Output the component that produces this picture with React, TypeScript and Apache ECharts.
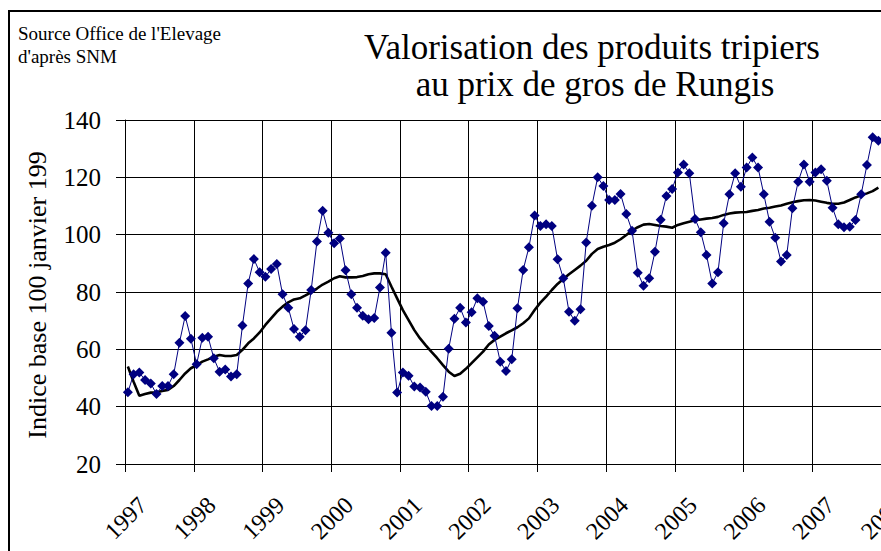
import React, { useEffect, useRef } from "react";
import * as echarts from "echarts";

const years = [1997, 1998, 1999, 2000, 2001, 2002, 2003, 2004, 2005, 2006, 2007, 2008];
const months = ["01", "02", "03", "04", "05", "06", "07", "08", "09", "10", "11", "12"];

// Monthly index (blue diamonds), Jan 1997 - Dec 2007
const valorisation = [
  45, 51.3, 51.9, 49.3, 48.1, 44.4, 47.2, 47.2, 51.3, 62.3, 71.6, 63.7,
  54.8, 64, 64.4, 56.9, 52.2, 53, 50.5, 51.3, 68.3, 83, 91.5, 86.9,
  85.3, 88, 89.8, 79.2, 74.5, 67.1, 64.4, 66.7, 80.7, 97.6, 108.3, 100.7,
  97, 98.7, 87.6, 79.2, 74.5, 71.7, 70.5, 70.9, 81.6, 93.7, 65.8, 44.9,
  51.9, 50.8, 47, 46.7, 45.2, 40.2, 40.2, 43.5, 60.2, 70.7, 74.5, 69.4,
  72.9, 77.8, 76.6, 68.1, 64.7, 55.7, 52.4, 56.5, 74.3, 87.7, 95.6, 106.7,
  103, 103.6, 103, 91.4, 84.8, 73.1, 70, 74, 97.3, 110.1, 120, 117,
  112.1, 112.1, 114.2, 107.2, 101.4, 86.7, 82.2, 84.8, 94, 105.2, 113.5, 115.9,
  121.7, 124.5, 121.4, 105.5, 100.8, 92.9, 83, 86.9, 104, 114.1, 121.4, 116.7,
  123.4, 126.9, 123.4, 114.1, 104.5, 98.9, 90.6, 92.9, 109.2, 118.5, 124.5, 118.5,
  121.7, 122.8, 118.8, 109.4, 103.6, 102.6, 102.8, 105.1, 114.1, 124.3, 134, 132.8,
];

// Smoothed trend (black line)
const tendance = [
  54, 48.7, 43.8, 44.4, 44.9, 45, 45.5, 45.8, 47.2, 49.3, 51.6, 53.4,
  54.5, 55.7, 56.5, 57.4, 58, 57.7, 57.7, 58, 59.8, 62.1, 63.8, 65.9,
  68.5, 70.8, 73.1, 74.9, 76.4, 77.4, 77.8, 78.8, 79.9, 81.2, 82.6, 83.6,
  84.8, 85.5, 85.1, 85.1, 85.2, 85.6, 86.2, 86.5, 86.5, 86.2, 81.9, 77.8,
  73.7, 70.2, 66.7, 63.8, 61.4, 59.1, 56.9, 54.5, 52.2, 50.7, 51.5, 53.2,
  55.2, 57.2, 59.2, 61.7, 63.3, 64.4, 65.6, 66.6, 67.7, 69.1, 70.8, 73.7,
  76.3, 78.4, 80.7, 82.8, 84.5, 86.2, 87.7, 89.2, 90.9, 93.3, 95, 95.8,
  96.4, 97.2, 98.4, 99.9, 101.4, 102.6, 103.5, 103.7, 103.4, 103, 102.8, 102.4,
  103.4, 104, 104.5, 105, 105.3, 105.6, 105.8, 106.2, 106.9, 107.4, 107.7, 107.8,
  107.9, 108.3, 108.6, 109.1, 109.4, 109.8, 110.2, 110.8, 111.3, 111.7, 112, 112.1,
  111.9, 111.5, 111.1, 110.8, 110.8, 111.2, 112.1, 113, 113.7, 114.4, 115.2, 116.4,
];

const titleLines = ["Valorisation des produits tripiers", "au prix de gros de Rungis"];
const sourceLines = ["Source Office de l'Elevage", "d'après SNM"];
const yTitle = "Indice base 100 janvier 199";

const categories: string[] = [];
years.forEach((y) => months.forEach((m) => categories.push(`${y}-${m}`)));

const FONT = "'Liberation Serif', 'Times New Roman', serif";

export default function App() {
  const ref = useRef<HTMLDivElement>(null);
  useEffect(() => {
    if (!ref.current) return;
    const chart = echarts.init(ref.current, undefined, { renderer: "svg" });
    chart.setOption({
      animation: false,
      backgroundColor: "#fff",
      grid: { left: 115, top: 108, width: 825, height: 344 },
      xAxis: {
        type: "category",
        data: categories,
        boundaryGap: true,
        axisLine: { show: true, lineStyle: { color: "#000", width: 1 } },
        axisTick: { show: true, interval: 11, length: 8, lineStyle: { color: "#000" } },
        axisLabel: {
          interval: 11,
          rotate: 45,
          align: "center",
          verticalAlign: "middle",
          margin: 52,
          padding: [0, 6, 6, 0],
          fontFamily: FONT,
          fontSize: 24,
          color: "#000",
          formatter: (v: string) => v.slice(0, 4),
        },
        splitLine: { show: true, interval: 11, lineStyle: { color: "#000", width: 1 } },
      },
      yAxis: {
        type: "value",
        min: 20,
        max: 140,
        interval: 20,
        axisLine: { show: true, lineStyle: { color: "#000", width: 1 } },
        axisTick: { show: true, length: 9, lineStyle: { color: "#000" } },
        axisLabel: { margin: 24, fontFamily: FONT, fontSize: 25, color: "#000" },
        splitLine: { show: true, lineStyle: { color: "#000", width: 1 } },
      },
      series: [
        {
          name: "Tendance",
          type: "line",
          data: tendance,
          symbol: "none",
          lineStyle: { color: "#000", width: 2.6 },
          z: 2,
        },
        {
          name: "Valorisation",
          type: "line",
          data: valorisation,
          symbol: "diamond",
          symbolSize: 10,
          showAllSymbol: true,
          itemStyle: { color: "#000080" },
          lineStyle: { color: "#000080", width: 1 },
          z: 3,
        },
      ],
      graphic: [
        {
          type: "text",
          left: 8,
          top: 12,
          style: { text: sourceLines[0], font: `19px ${FONT}`, fill: "#000" },
        },
        {
          type: "text",
          left: 8,
          top: 35,
          style: { text: sourceLines[1], font: `19px ${FONT}`, fill: "#000" },
        },
        {
          type: "text",
          x: 582,
          y: 35,
          style: { text: titleLines[0], font: `35px ${FONT}`, fill: "#000", align: "center", verticalAlign: "middle" },
        },
        {
          type: "text",
          x: 585,
          y: 72,
          style: { text: titleLines[1], font: `35px ${FONT}`, fill: "#000", align: "center", verticalAlign: "middle" },
        },
        {
          type: "text",
          x: 27,
          y: 283,
          rotation: Math.PI / 2,
          style: { text: yTitle, font: `26px ${FONT}`, fill: "#000", align: "center", verticalAlign: "middle" },
        },
      ],
    });
    return () => chart.dispose();
  }, []);

  return (
    <div
      style={{
        position: "absolute",
        left: 8,
        top: 10,
        width: 873,
        height: 541,
        overflow: "hidden",
      }}
    >
      <div style={{ border: "2px solid #000", width: 1004, height: 564, boxSizing: "border-box", background: "#fff" }}>
        <div ref={ref} style={{ width: 1000, height: 560 }} />
      </div>
    </div>
  );
}
